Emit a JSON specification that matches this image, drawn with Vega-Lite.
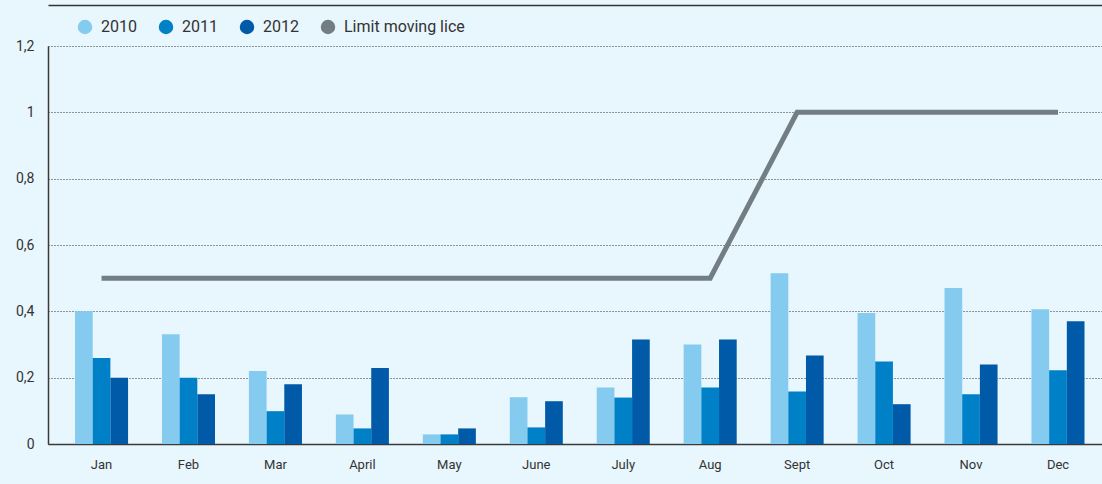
{
  "$schema": "https://vega.github.io/schema/vega-lite/v6.json",
  "width": 1054,
  "height": 398,
  "autosize": {"type": "none"},
  "padding": {"left": 48, "top": 46, "right": 0, "bottom": 40},
  "background": "#e8f6fd",
  "config": {
    "view": {"stroke": null},
    "font": "Roboto",
    "axis": {"labelFont": "Roboto", "labelColor": "#333333", "ticks": false}
  },
  "datasets": {
    "bars": [
      {"month": "Jan", "year": "2010", "value": 0.40},
      {"month": "Jan", "year": "2011", "value": 0.259},
      {"month": "Jan", "year": "2012", "value": 0.20},
      {"month": "Feb", "year": "2010", "value": 0.331},
      {"month": "Feb", "year": "2011", "value": 0.20},
      {"month": "Feb", "year": "2012", "value": 0.15},
      {"month": "Mar", "year": "2010", "value": 0.22},
      {"month": "Mar", "year": "2011", "value": 0.099},
      {"month": "Mar", "year": "2012", "value": 0.18},
      {"month": "April", "year": "2010", "value": 0.089},
      {"month": "April", "year": "2011", "value": 0.047},
      {"month": "April", "year": "2012", "value": 0.229},
      {"month": "May", "year": "2010", "value": 0.029},
      {"month": "May", "year": "2011", "value": 0.029},
      {"month": "May", "year": "2012", "value": 0.047},
      {"month": "June", "year": "2010", "value": 0.141},
      {"month": "June", "year": "2011", "value": 0.05},
      {"month": "June", "year": "2012", "value": 0.129},
      {"month": "July", "year": "2010", "value": 0.17},
      {"month": "July", "year": "2011", "value": 0.14},
      {"month": "July", "year": "2012", "value": 0.315},
      {"month": "Aug", "year": "2010", "value": 0.30},
      {"month": "Aug", "year": "2011", "value": 0.17},
      {"month": "Aug", "year": "2012", "value": 0.315},
      {"month": "Sept", "year": "2010", "value": 0.515},
      {"month": "Sept", "year": "2011", "value": 0.158},
      {"month": "Sept", "year": "2012", "value": 0.267},
      {"month": "Oct", "year": "2010", "value": 0.395},
      {"month": "Oct", "year": "2011", "value": 0.249},
      {"month": "Oct", "year": "2012", "value": 0.12},
      {"month": "Nov", "year": "2010", "value": 0.47},
      {"month": "Nov", "year": "2011", "value": 0.15},
      {"month": "Nov", "year": "2012", "value": 0.24},
      {"month": "Dec", "year": "2010", "value": 0.406},
      {"month": "Dec", "year": "2011", "value": 0.222},
      {"month": "Dec", "year": "2012", "value": 0.37}
    ],
    "limit": [
      {"month": "Jan", "limit": 0.5},
      {"month": "Feb", "limit": 0.5},
      {"month": "Mar", "limit": 0.5},
      {"month": "April", "limit": 0.5},
      {"month": "May", "limit": 0.5},
      {"month": "June", "limit": 0.5},
      {"month": "July", "limit": 0.5},
      {"month": "Aug", "limit": 0.5},
      {"month": "Sept", "limit": 1.0},
      {"month": "Oct", "limit": 1.0},
      {"month": "Nov", "limit": 1.0},
      {"month": "Dec", "limit": 1.0}
    ]
  },
  "resolve": {"axis": {"x": "independent"}},
  "layer": [
    {
      "data": {"name": "bars"},
      "mark": {"type": "bar"},
      "encoding": {
        "x": {
          "field": "month",
          "type": "nominal",
          "sort": ["Jan", "Feb", "Mar", "April", "May", "June", "July", "Aug", "Sept", "Oct", "Nov", "Dec"],
          "scale": {"domain": ["Jan", "Feb", "Mar", "April", "May", "June", "July", "Aug", "Sept", "Oct", "Nov", "Dec"], "paddingInner": 0.39, "paddingOuter": 0.256, "align": 0.607},
          "axis": {"title": null, "labelAngle": 0, "labelFontSize": 13, "labelPadding": 14, "domainColor": "#3a3a3a", "domainWidth": 1.5, "grid": false}
        },
        "xOffset": {"field": "year", "type": "nominal", "scale": {"paddingInner": 0, "paddingOuter": 0}},
        "y": {
          "field": "value",
          "type": "quantitative",
          "scale": {"domain": [0, 1.2], "nice": false},
          "axis": {
            "title": null,
            "values": [0, 0.2, 0.4, 0.6, 0.8, 1, 1.2],
            "labelExpr": "replace(format(datum.value, '.1~f'), '.', ',')",
            "labelFontSize": 14,
            "labelPadding": 14,
            "domainColor": "#3a3a3a",
            "domainWidth": 1.5,
            "grid": true,
            "gridColor": "#333333",
            "gridDash": [1, 2],
            "gridWidth": 1
          }
        },
        "color": {
          "field": "year",
          "type": "nominal",
          "scale": {"domain": ["2010", "2011", "2012", "Limit moving lice"], "range": ["#85cbf0", "#0080c6", "#005aa8", "#737d84"]},
          "legend": {
            "title": null,
            "orient": "none",
            "direction": "horizontal",
            "legendX": 29,
            "legendY": -27,
            "symbolType": "circle",
            "symbolSize": 210,
            "symbolStrokeWidth": 0,
            "symbolOpacity": 1,
            "labelFontSize": 16,
            "labelColor": "#333333",
            "labelOffset": 8,
            "columnPadding": 21
          }
        }
      }
    },
    {
      "data": {"name": "limit"},
      "mark": {"type": "line", "stroke": "#737d84", "strokeWidth": 5, "strokeCap": "butt"},
      "encoding": {
        "x": {
          "field": "month",
          "type": "nominal",
          "sort": ["Jan", "Feb", "Mar", "April", "May", "June", "July", "Aug", "Sept", "Oct", "Nov", "Dec"],
          "axis": {"orient": "top", "title": null, "labels": false, "ticks": false, "grid": false, "offset": 41, "domainColor": "#333333", "domainWidth": 1.5}
        },
        "y": {"field": "limit", "type": "quantitative"}
      }
    }
  ]
}
